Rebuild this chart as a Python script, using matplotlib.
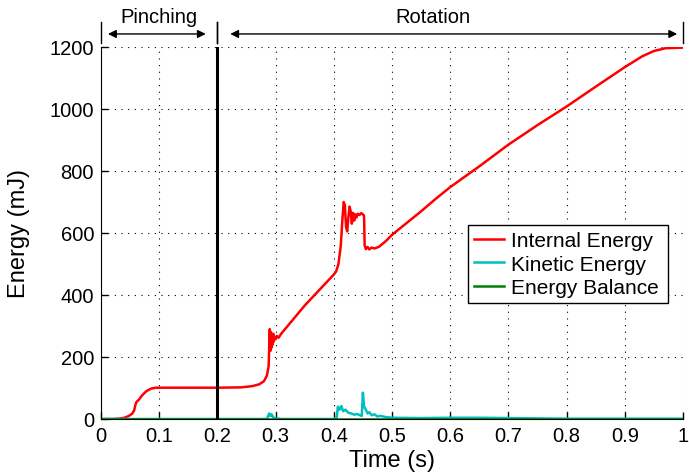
import matplotlib.pyplot as plt
import matplotlib.transforms as mtransforms

plt.rcParams['font.family'] = ['Liberation Sans', 'DejaVu Sans']

# internal energy (mJ)
t_int = [0, 0.02, 0.03, 0.04, 0.048, 0.054, 0.057, 0.059, 0.061, 0.065, 0.07, 0.078, 0.086,
         0.095, 0.11, 0.15, 0.2, 0.24, 0.26, 0.272, 0.28, 0.285, 0.288, 0.290, 0.291, 0.292,
         0.293, 0.294, 0.295, 0.296, 0.297, 0.298, 0.300, 0.302, 0.305, 0.31, 0.35, 0.40,
         0.404, 0.408, 0.412, 0.415, 0.417, 0.419, 0.421, 0.423, 0.425, 0.427, 0.429, 0.431,
         0.433, 0.435, 0.437, 0.439, 0.441, 0.444, 0.447, 0.450, 0.452, 0.453, 0.455, 0.458,
         0.461, 0.465, 0.47, 0.478, 0.49, 0.5, 0.525, 0.55, 0.575, 0.6, 0.65, 0.7, 0.75, 0.8,
         0.85, 0.9, 0.93, 0.95, 0.97, 1.0]
e_int = [0, 0, 1, 4, 10, 18, 28, 45, 55, 62, 75, 90, 98,
         101, 101, 101, 101, 102, 106, 112, 122, 140, 170, 290, 220, 280,
         230, 270, 240, 275, 250, 265, 258, 268, 262, 276, 366, 466,
         476, 500, 560, 650, 700, 690, 620, 605, 650, 685, 670, 630,
         665, 640, 660, 650, 662, 658, 664, 660, 655, 560, 548, 555,
         547, 553, 550, 556, 575, 594, 632, 670, 710, 748, 815, 885, 948, 1008,
         1072, 1135, 1170, 1187, 1196, 1198]

# kinetic energy (mJ)
t_kin = [0, 0.285, 0.289, 0.291, 0.293, 0.296, 0.30, 0.31, 0.40, 0.405, 0.407, 0.41, 0.413,
         0.416, 0.42, 0.425, 0.43, 0.435, 0.44, 0.445, 0.448, 0.450, 0.452, 0.455, 0.458,
         0.461, 0.465, 0.47, 0.475, 0.48, 0.49, 0.5, 0.55, 0.6, 0.65, 0.7, 0.75, 0.8, 1.0]
e_kin = [0, 0, 18, 10, 15, 5, 2, 0, 0, 5, 40, 30, 42,
         25, 30, 20, 18, 14, 16, 12, 10, 85, 40, 30, 18,
         22, 12, 15, 8, 10, 6, 4, 3, 4, 4, 3, 2, 1, 1]

# energy balance (mJ)
t_bal = [0, 1.0]
e_bal = [0, 0]

split_time = 0.2
# name, bar start, bar end, arrow start, arrow end, label x
phases = [("Pinching", 0.0, 0.2, 0.012, 0.18, 0.10), ("Rotation", 0.2, 1.0, 0.222, 0.99, 0.57)]

fig = plt.figure(figsize=(6.89, 4.77), dpi=100)
ax = fig.add_axes([0.1466, 0.1195, 0.8447, 0.7799])

ax.plot(t_int, e_int, color='#ff0000', lw=1.8, label='Internal Energy')
ax.plot(t_kin, e_kin, color='#00bfbf', lw=1.8, label='Kinetic Energy')
ax.plot(t_bal, e_bal, color='#008000', lw=1.8, label='Energy Balance')
ax.axvline(split_time, color='black', lw=2.2, zorder=5)

ax.set_xlim(0, 1)
ax.set_ylim(0, 1200)
ax.set_xticks([i / 10 for i in range(11)])
ax.set_xticklabels(['0', '0.1', '0.2', '0.3', '0.4', '0.5', '0.6', '0.7', '0.8', '0.9', '1'])
ax.set_yticks(range(0, 1201, 200))
ax.tick_params(direction='in', labelsize=14.5, length=5, width=1, pad=5)
ax.grid(True, color='black', linestyle=(0, (1, 5)), linewidth=0.8)
ax.spines['top'].set_visible(False)
ax.spines['right'].set_visible(False)
ax.set_xlabel('Time (s)', fontsize=17, labelpad=3)
ax.set_ylabel('Energy (mJ)', fontsize=17, labelpad=14)

leg = ax.legend(loc='upper left', bbox_to_anchor=(0.63, 0.317, 0.345, 0.205), mode='expand',
                fontsize=15, fancybox=False, framealpha=1, edgecolor='black',
                handlelength=1.45, borderpad=0.3, labelspacing=0.22, handletextpad=0.35,
                borderaxespad=0)
leg.get_frame().set_linewidth(1.0)

# phase annotations above the axes
trans = mtransforms.blended_transform_factory(ax.transData, ax.transAxes)
for name, x0, x1, a0, a1, xt in phases:
    ax.annotate('', xy=(a0, 1.035), xytext=(a1, 1.035), xycoords=trans, textcoords=trans,
                arrowprops=dict(arrowstyle='<|-|>', color='black', lw=1.0,
                                mutation_scale=12, shrinkA=0, shrinkB=0))
    ax.text(xt, 1.083, name, transform=trans, ha='center', va='center', fontsize=14.5)
    for xb in (x0, x1):
        ax.plot([xb, xb], [1.01, 1.067], transform=trans, color='black', lw=1.0, clip_on=False)

fig.savefig('out.png', dpi=100)
